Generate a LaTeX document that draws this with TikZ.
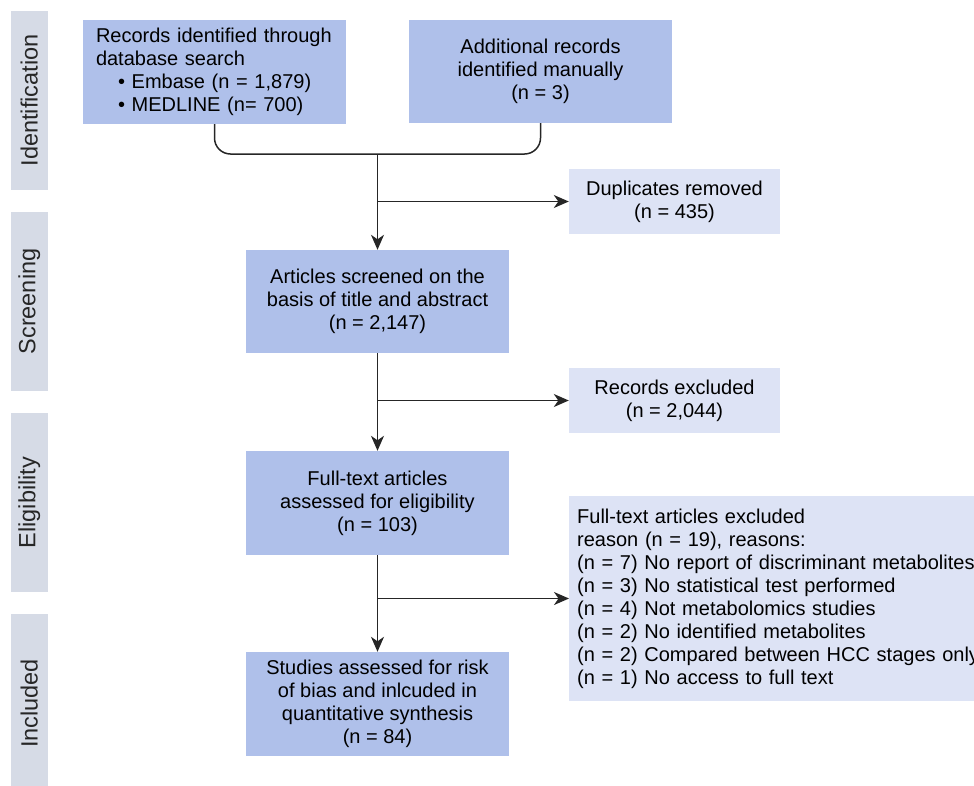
\documentclass[tikz,border=0pt]{standalone}
\usepackage{fontspec}
\setmainfont{Liberation Sans}
\usetikzlibrary{arrows.meta}
\definecolor{mainbox}{RGB}{175,192,234}
\definecolor{sidebox}{RGB}{221,227,245}
\definecolor{phasebar}{RGB}{214,219,230}
\begin{document}
\begin{tikzpicture}[x=1pt,y=-1pt,
  txt/.style={font=\fontsize{20}{23}\selectfont},
  mainnode/.style={txt, fill=mainbox, minimum width=263pt, minimum height=104pt, inner sep=0pt, align=center},
  sidenode/.style={txt, fill=sidebox, minimum width=211pt, minimum height=65pt, inner sep=0pt, align=center},
  phase/.style={fill=phasebar, minimum width=179pt, minimum height=36.5pt, inner sep=0pt, rotate=90, text=black!85, font=\fontsize{23.5}{27}\selectfont},
  conn/.style={line width=1.5pt, draw=black!85},
  arr/.style={conn, -{Stealth[length=15pt,width=13pt,inset=4.5pt]}}]
\useasboundingbox (0,0) rectangle (974,785);
\clip (0,0) rectangle (974,785);

% phase bars
\node[phase] (pid) at (29.25,100.5) {Identification};
\node[phase] (psc) at (29.25,301.5) {Screening};
\node[phase] (pel) at (29.25,502.5) {Eligibility};
\node[phase] (pin) at (29.25,703.5) {Included};

% main boxes
\node[mainnode, align=left, text width=237pt, inner xsep=13pt] (b1) at (214.5,72)
  {Records identified through\\database search\\\hspace*{22pt}• Embase (n = 1,879)\\\hspace*{22pt}• MEDLINE (n= 700)};
\node[mainnode, minimum height=103pt] (b2) at (540.5,71.5)
  {Additional records\\identified manually\\(n = 3)};
\node[mainnode, minimum height=103pt] (scr) at (377.5,301.5)
  {Articles screened on the\\basis of title and abstract\\(n = 2,147)};
\node[mainnode] (ft) at (377.5,503)
  {Full-text articles\\assessed for eligibility\\(n = 103)};
\node[mainnode] (stud) at (377.5,704)
  {Studies assessed for risk\\of bias and inlcuded in\\quantitative synthesis\\(n = 84)};

% side boxes
\node[sidenode] (dup) at (674.5,201.5) {Duplicates removed\\(n = 435)};
\node[sidenode] (rex) at (674.5,400.5) {Records excluded\\(n = 2,044)};
\node[txt, fill=sidebox, anchor=west, minimum height=205pt, text width=410pt,
      inner xsep=8pt, inner ysep=0pt, align=left] (ftex) at (569,598.5)
  {Full-text articles excluded\\reason (n = 19), reasons:\\(n = 7) No report of discriminant metabolites\\(n = 3) No statistical test performed\\(n = 4) Not metabolomics studies\\(n = 2) No identified metabolites\\(n = 2) Compared between HCC stages only\\(n = 1) No access to full text};

% connectors
\coordinate (m1) at (377.5,154);
\draw[conn, rounded corners=16pt] (b1.south) -- (b1.south |- m1) -- (b2.south |- m1) -- (b2.south);
\draw[arr] (m1) -- (scr.north);
\coordinate (j1) at (scr.north |- dup.west);
\draw[arr] (j1) -- (dup.west);

\draw[arr] (scr.south) -- (ft.north);
\coordinate (j2) at (scr.south |- rex.west);
\draw[arr] (j2) -- (rex.west);

\draw[arr] (ft.south) -- (stud.north);
\coordinate (j3) at (ft.south |- ftex.west);
\draw[arr] (j3) -- (ftex.west);
\end{tikzpicture}
\end{document}
